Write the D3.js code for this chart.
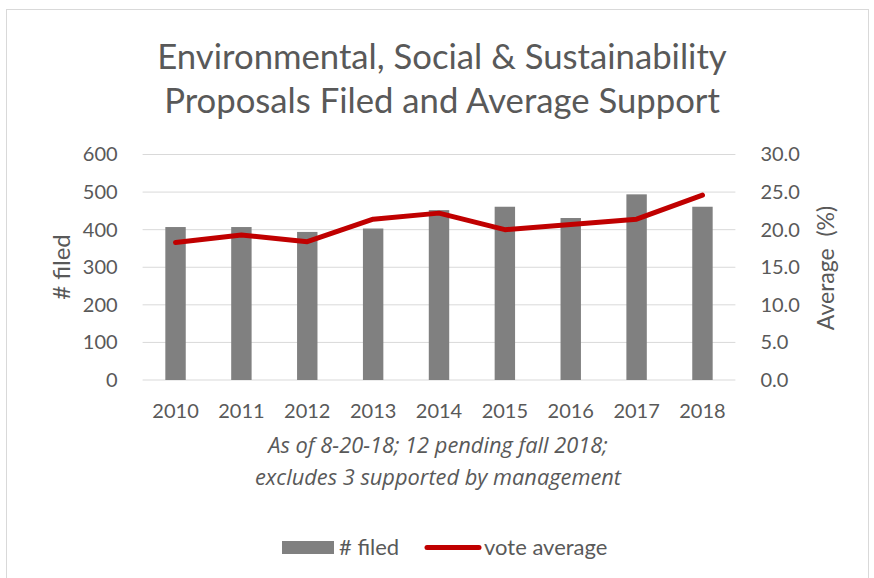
<!DOCTYPE html>
<html>
<head>
<meta charset="utf-8">
<script src="https://cdnjs.cloudflare.com/ajax/libs/d3/7.8.5/d3.min.js"></script>
<style>
  body { margin: 0; background: #fff; }
  text { font-family: Lato, "Open Sans", sans-serif; fill: #595959; }
  .axis path, .axis line { display: none; }
</style>
</head>
<body>
<div id="chart"></div>
<script>
//chart data
var years = ["2010", "2011", "2012", "2013", "2014", "2015", "2016", "2017", "2018"];
var filed = [407, 407, 394, 403, 452, 461, 431, 494, 461];
var voteAverage = [18.3, 19.3, 18.4, 21.4, 22.2, 20.0, 20.7, 21.4, 24.6];
var leftTicks = [0, 100, 200, 300, 400, 500, 600];
var rightTicks = [0, 5, 10, 15, 20, 25, 30];

//size of plot area
var margin = {top: 154.5, left: 142.6, right: 874 - 735.4, bottom: 578 - 380},
  width = 874 - margin.left - margin.right,
  height = 578 - margin.top - margin.bottom;

var svg = d3.select("#chart").append("svg")
    .attr("width", 874)
    .attr("height", 578);

//outer frame
svg.append("rect")
   .attr("x", 6.5).attr("y", 9.5)
   .attr("width", 862).attr("height", 590)
   .attr("fill", "none")
   .attr("stroke", "#d9d9d9");

//title
svg.append("text")
   .attr("x", 442).attr("y", 69)
   .attr("text-anchor", "middle")
   .style("font-size", "34.7px")
   .text("Environmental, Social & Sustainability");
svg.append("text")
   .attr("x", 442).attr("y", 113)
   .attr("text-anchor", "middle")
   .style("font-size", "34.7px")
   .text("Proposals Filed and Average Support");

var g = svg.append("g")
    .attr("transform", "translate(" + margin.left + "," + margin.top + ")");

//scales
var x = d3.scaleBand().domain(years).range([0, width]).paddingInner(0.69).paddingOuter(0.345);
var y = d3.scaleLinear().domain([0, 600]).range([height, 0]);
var y2 = d3.scaleLinear().domain([0, 30]).range([height, 0]);

//gridlines
g.selectAll(".grid")
   .data(leftTicks)
   .enter().append("line")
   .attr("x1", 0).attr("x2", width)
   .attr("y1", function(d) { return y(d); })
   .attr("y2", function(d) { return y(d); })
   .attr("stroke", "#d9d9d9")
   .attr("stroke-width", 1);

//bars
g.selectAll(".bar")
   .data(filed)
   .enter().append("rect")
   .attr("x", function(d, i) { return x(years[i]); })
   .attr("width", x.bandwidth())
   .attr("y", function(d) { return y(d); })
   .attr("height", function(d) { return height - y(d); })
   .attr("fill", "#808080");

//line
var voteline = d3.line()
   .x(function(d, i) { return x(years[i]) + x.bandwidth() / 2; })
   .y(function(d) { return y2(d); });

g.append("path")
   .datum(voteAverage)
   .attr("d", voteline)
   .attr("fill", "none")
   .attr("stroke", "#c00000")
   .attr("stroke-width", 5)
   .attr("stroke-linecap", "round")
   .attr("stroke-linejoin", "round");

//axes
g.append("g")
   .attr("class", "axis")
   .attr("transform", "translate(-22,0)")
   .call(d3.axisLeft(y).tickValues(leftTicks).tickSize(0))
   .selectAll("text").style("font-size", "20px");

g.append("g")
   .attr("class", "axis")
   .attr("transform", "translate(" + (width + 22) + ",0)")
   .call(d3.axisRight(y2).tickValues(rightTicks).tickSize(0).tickFormat(d3.format(".1f")))
   .selectAll("text").style("font-size", "20px");

g.append("g")
   .attr("class", "axis")
   .attr("transform", "translate(0," + (height + 21) + ")")
   .call(d3.axisBottom(x).tickSize(0))
   .selectAll("text").style("font-size", "20px");

//axis titles
svg.append("text")
   .attr("transform", "translate(70,267) rotate(-90)")
   .attr("text-anchor", "middle")
   .style("font-size", "24px")
   .text("# filed");
svg.append("text")
   .attr("transform", "translate(834,268) rotate(-90)")
   .attr("text-anchor", "middle")
   .style("font-size", "23px")
   .style("white-space", "pre")
   .text("Average  (%)");

//note
svg.append("text")
   .attr("x", 438).attr("y", 453)
   .attr("text-anchor", "middle")
   .style("font-family", "'Open Sans', sans-serif")
   .style("font-size", "21.8px").style("font-style", "italic")
   .text("As of 8-20-18; 12 pending fall 2018;");
svg.append("text")
   .attr("x", 438).attr("y", 485)
   .attr("text-anchor", "middle")
   .style("font-family", "'Open Sans', sans-serif")
   .style("font-size", "21.8px").style("font-style", "italic")
   .text("excludes 3 supported by management");

//legend
var legend = svg.append("g");
legend.append("rect")
   .attr("x", 282).attr("y", 541)
   .attr("width", 52).attr("height", 13)
   .attr("fill", "#808080");
legend.append("text")
   .attr("x", 339).attr("y", 555)
   .style("font-size", "22px")
   .text("# filed");
legend.append("line")
   .attr("x1", 427).attr("x2", 479)
   .attr("y1", 547.5).attr("y2", 547.5)
   .attr("stroke", "#c00000")
   .attr("stroke-width", 5)
   .attr("stroke-linecap", "round");
legend.append("text")
   .attr("x", 484).attr("y", 555)
   .style("font-size", "22px")
   .text("vote average");
</script>
</body>
</html>
